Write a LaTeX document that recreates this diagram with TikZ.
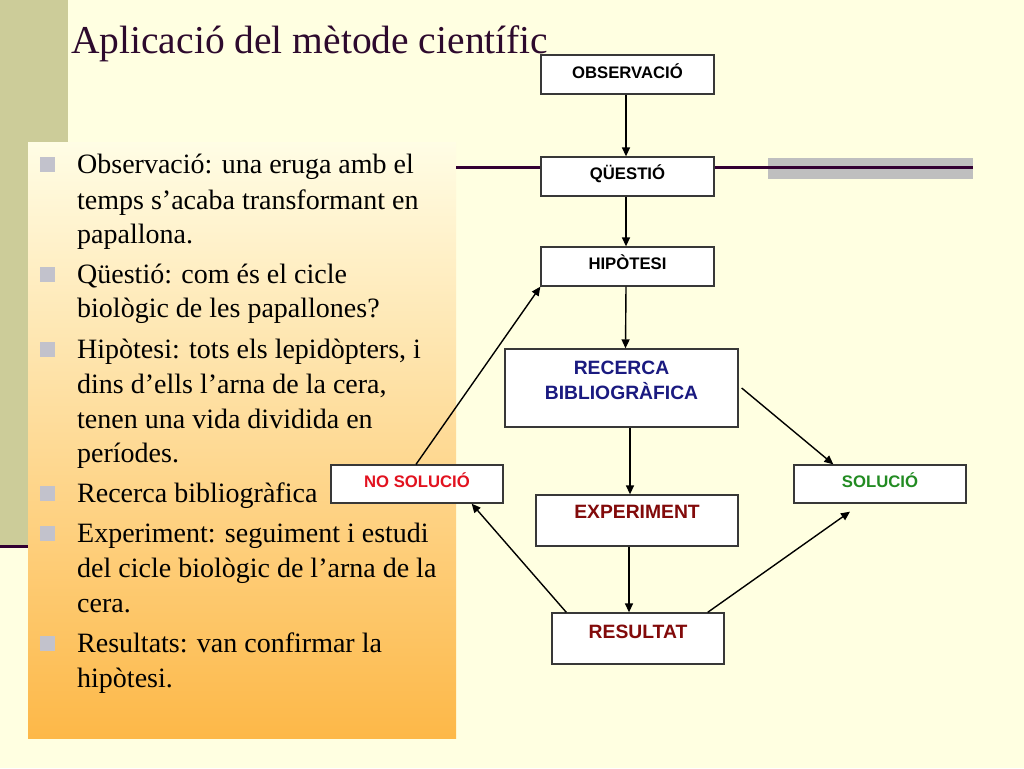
\documentclass[tikz,border=0pt]{standalone}
\usepackage{fontspec}
\setmainfont{Liberation Serif}
\newfontfamily\boxfont{Liberation Sans}
\usetikzlibrary{arrows.meta}
\definecolor{bg}{HTML}{FFFFE1}
\definecolor{olive}{HTML}{CCCC99}
\definecolor{plum}{HTML}{330033}
\definecolor{titlec}{HTML}{2D0A2D}
\definecolor{boxline}{HTML}{383838}
\definecolor{bulc}{HTML}{C2C2CC}
\definecolor{navyc}{HTML}{1A1A80}
\definecolor{redc}{HTML}{E2121F}
\definecolor{greenc}{HTML}{228B22}
\definecolor{maroonc}{HTML}{820A0A}
\definecolor{gtop}{HTML}{FFFDE5}
\definecolor{gmid}{HTML}{FEDB98}
\definecolor{gbot}{HTML}{FDB848}
\begin{document}
\begin{tikzpicture}[x=1pt,y=-1pt,
  fbox/.style={draw=boxline, line width=1.3pt, fill=white, inner sep=0pt,
    font=\boxfont\bfseries\fontsize{16.7}{20}\selectfont, text height=12pt},
  bigbox/.style={fbox, font=\boxfont\bfseries\fontsize{19.3}{24}\selectfont, text height=13.8pt},
  arr/.style={-{Triangle[length=9pt,width=8pt]}, line width=1.4pt, black},
  txt/.style={anchor=base west, inner sep=0pt, font=\fontsize{28}{34}\selectfont},
  bul/.style={fill=bulc, inner sep=0pt, minimum size=15pt},
  deco/.style={draw=plum, line width=3pt}]
\useasboundingbox[fill=bg] (0,0) rectangle (1024,768);
% theme decorations
\fill[olive] (0,0) rectangle (68,545);
\draw[deco] (0,546) -- (68,546);
\shade[top color=gtop, middle color=gmid, bottom color=gbot] (28,142) rectangle (456,738);
\fill[black!25] (768,158) rectangle (973,179);
\coordinate (la) at (456,167);
\coordinate (lb) at (541,167);
\coordinate (lc) at (714,167);
\coordinate (ld) at (973,167);
\draw[deco] (la) -- (lb);
\draw[deco] (lc) -- (ld);
% title
\node[anchor=base west, inner sep=0pt, text=titlec, font=\fontsize{39.5}{44}\selectfont] (title) at (71,53) {Aplicació del mètode científic};
% bullets
\node[bul] (b1) at (47.5,164.5) {};
\node[bul] (b2) at (47.5,274.5) {};
\node[bul] (b3) at (47.5,349.5) {};
\node[bul] (b4) at (47.5,493.5) {};
\node[bul] (b5) at (47.5,533.5) {};
\node[bul] (b6) at (47.5,643.5) {};
\node[txt] (t1) at (77,173) {Observació: una eruga amb el};
\node[txt] (t2) at (77,209) {temps s’acaba transformant en};
\node[txt] (t3) at (77,243) {papallona.};
\node[txt] (t4) at (77,283) {Qüestió: com és el cicle};
\node[txt] (t5) at (77,317) {biològic de les papallones?};
\node[txt] (t6) at (77,358) {Hipòtesi: tots els lepidòpters, i};
\node[txt] (t7) at (77,393) {dins d’ells l’arna de la cera,};
\node[txt] (t8) at (77,428) {tenen una vida dividida en};
\node[txt] (t9) at (77,462) {períodes.};
\node[txt] (t10) at (77,502) {Recerca bibliogràfica};
\node[txt] (t11) at (77,542) {Experiment: seguiment i estudi};
\node[txt] (t12) at (77,577) {del cicle biològic de l’arna de la};
\node[txt] (t13) at (77,612) {cera.};
\node[txt] (t14) at (77,652) {Resultats: van confirmar la};
\node[txt] (t15) at (77,687) {hipòtesi.};
% flowchart boxes
\node[fbox, minimum width=173pt, minimum height=39pt, text depth=5pt] (obs) at (627.5,74.5) {OBSERVACIÓ};
\node[fbox, minimum width=173pt, minimum height=39pt, text depth=7pt] (que) at (627.5,176.5) {QÜESTIÓ};
\node[fbox, minimum width=173pt, minimum height=39pt, text depth=7pt] (hip) at (627.5,266.5) {HIPÒTESI};
\node[bigbox, text=navyc, minimum width=233pt, minimum height=78pt, text depth=40pt] (rec) at (621.5,388)
  {\begin{tabular}[t]{@{}c@{}}RECERCA\\BIBLIOGRÀFICA\end{tabular}};
\node[fbox, text=redc, minimum width=172pt, minimum height=38pt, text depth=6pt] (nos) at (417,484) {NO SOLUCIÓ};
\node[fbox, text=greenc, minimum width=172pt, minimum height=38pt, text depth=6pt] (sol) at (880,484) {SOLUCIÓ};
\node[bigbox, text=maroonc, minimum width=202pt, minimum height=51pt, text depth=17pt] (exp) at (637,520.5) {EXPERIMENT};
\node[bigbox, text=maroonc, minimum width=172pt, minimum height=51pt, text depth=13pt] (res) at (638,638.5) {RESULTAT};
% connectors
\draw[arr] ([xshift=-1.5pt]obs.south) -- ([xshift=-1.5pt]que.north);
\draw[arr] ([xshift=-1.5pt]que.south) -- ([xshift=-1.5pt]hip.north);
\draw[arr] ([xshift=-1.5pt]hip.south) -- ([xshift=4pt]rec.north);
\draw[arr] ([xshift=8.5pt]rec.south) -- ([xshift=-7pt]exp.north);
\draw[arr] ([xshift=-8pt]exp.south) -- ([xshift=-9pt]res.north);
\draw[arr] ([xshift=15pt]res.north west) -- ([xshift=-32pt]nos.south east);
\draw[arr] ([xshift=-1pt]nos.north) -- (hip.south west);
\draw[arr] ([xshift=3pt]rec.east) -- ([xshift=40pt]sol.north west);
\draw[arr] ([xshift=-17pt]res.north east) -- ([xshift=-30pt,yshift=-8pt]sol.south);
\end{tikzpicture}
\end{document}
